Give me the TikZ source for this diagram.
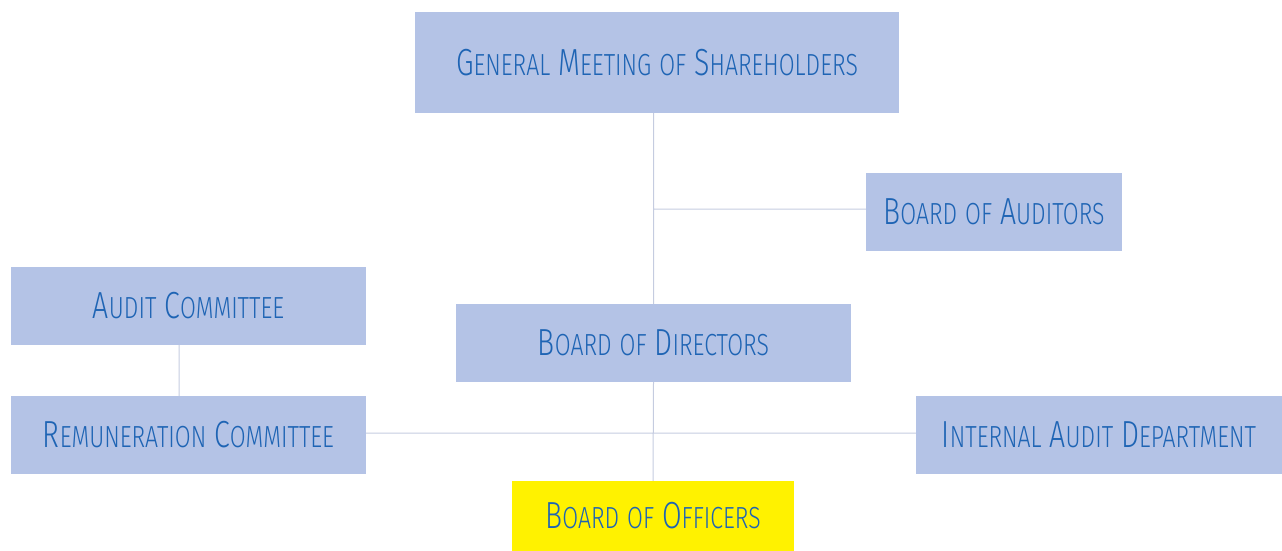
\documentclass[tikz,border=0pt]{standalone}
\usepackage{fontspec}
\usetikzlibrary{positioning}
\newfontfamily\orgfont{Fira Sans}[UprightFont={* Light}, FakeStretch=0.755]
\newcommand{\sm}[1]{{\fontsize{30.5}{32}\selectfont #1}}
\definecolor{boxblue}{RGB}{180,195,230}
\definecolor{textblue}{RGB}{30,100,180}
\definecolor{linegrey}{RGB}{197,204,224}
\definecolor{offyellow}{RGB}{255,242,0}

\begin{document}
\begin{tikzpicture}[x=1pt, y=-1pt, node distance=129pt, on grid,
    orgbox/.style={fill=boxblue, text=textblue, inner sep=0pt,
      minimum height=78pt, font=\orgfont\fontsize{37.7}{40}\selectfont},
    link/.style={draw=linegrey, line width=1pt}]
    \useasboundingbox (0,0) rectangle (1282,551);%
    \node[orgbox, minimum width=484pt, minimum height=101pt] (gms) at (657,62.5)
      {G\sm{ENERAL} M\sm{EETING} \sm{OF} S\sm{HAREHOLDERS}};%
    \node[orgbox, minimum width=256pt] (boa) at (994,211.5)
      {B\sm{OARD} \sm{OF} A\sm{UDITORS}};%
    \node[orgbox, minimum width=355pt] (ac) at (188.5,306)
      {A\sm{UDIT} C\sm{OMMITTEE}};%
    \node[orgbox, minimum width=355pt] (rc) [below=of ac]
      {R\sm{EMUNERATION} C\sm{OMMITTEE}};%
    \node[orgbox, minimum width=395pt] (bod) at (653.5,343)
      {B\sm{OARD} \sm{OF} D\sm{IRECTORS}};%
    \node[orgbox, minimum width=366pt] (iad) at (1099,435)
      {I\sm{NTERNAL} A\sm{UDIT} D\sm{EPARTMENT}};%
    \node[orgbox, fill=offyellow, minimum width=282pt, minimum height=70pt]
      (boo) at (653,516) {B\sm{OARD} \sm{OF} O\sm{FFICERS}};%
    \path[link] (bod.north |- gms.south) -- (bod.north)%
                ([yshift=2.5pt]bod.north |- boa.west) -- ([yshift=2.5pt]boa.west)%
                (bod.south) -- (boo.north)%
                ([yshift=2pt]rc.east) -- ([yshift=2pt]iad.west)%
                ([xshift=-9.5pt]ac.south) -- ([xshift=-9.5pt]rc.north);
  \end{tikzpicture}
\end{document}
